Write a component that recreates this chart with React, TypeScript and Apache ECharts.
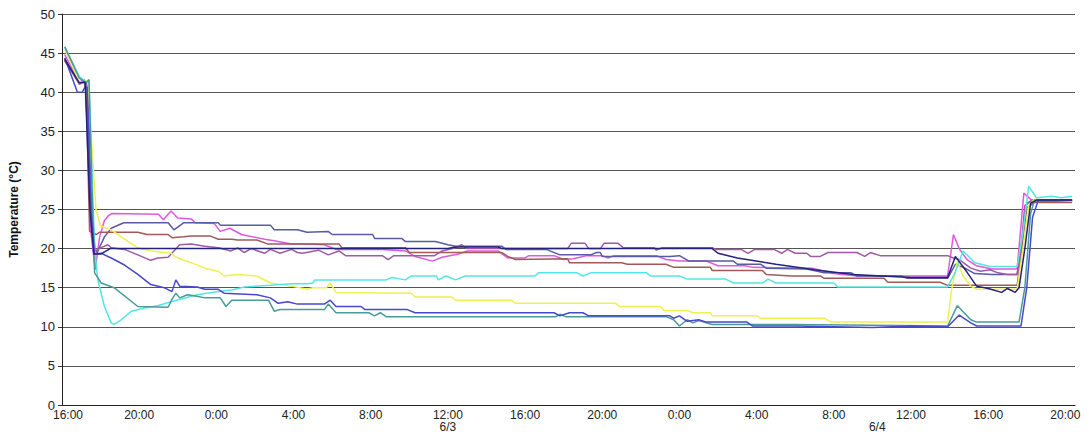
import React, { useEffect, useRef } from "react";
import * as echarts from "echarts";

// hours since 16:00 on 6/2
const X_MAX = 52.5;
const START_HOUR = 16;
const dateLabelNames = ["6/3", "6/4"];
const dateLabelHours = [20, 42.25];

const seriesNames = ["Magenta", "SlateBlue", "Brown", "Purple", "Yellow", "Cyan", "Teal", "Blue", "Navy"];
const seriesColors = ["#dd5ade", "#5a5aa5", "#a05a5a", "#a05aa5", "#f0f050", "#55e5e5", "#4a9a9a", "#4848cc", "#23237a"];

const magenta = [
  [0.14, 44.8], [0.9, 41.3], [1.15, 41.6], [1.3, 41.0], [1.5, 22], [1.72, 17.3], [1.95, 21.5], [2.2, 23.6], [2.4, 24.2], [2.6, 24.5],
  [5.0, 24.4], [5.25, 23.7], [5.65, 24.8], [6.0, 23.9], [6.7, 23.8], [6.9, 23.3], [7.9, 23.2], [8.2, 22.2], [8.7, 22.6], [9.3, 21.8],
  [10.5, 21.2], [11.0, 21.0], [11.9, 20.6], [12.7, 20.6], [13.6, 20.5], [14.2, 19.9], [16.6, 19.9], [17.8, 19.7], [18.3, 19.0], [19.2, 18.4],
  [19.7, 18.9], [20.55, 19.3], [21.0, 19.7], [22.6, 19.7], [23.1, 18.8], [24.0, 18.8], [24.2, 19.1], [25.5, 19.1], [26.0, 18.6], [26.5, 18.7],
  [27.2, 19.1], [28.0, 19.1], [28.3, 18.8], [28.6, 19.1], [30.8, 19.1], [31.3, 18.6], [32.0, 18.4], [33.4, 18.4], [34.0, 17.8], [35.4, 17.8],
  [35.8, 17.6], [38.9, 17.5], [40.0, 16.8], [41.2, 16.5], [45.9, 16.5], [46.2, 21.8], [46.5, 20.0], [46.9, 18.6], [47.4, 17.8], [48.2, 17.4],
  [49.5, 17.4], [49.85, 27.1], [50.2, 26.3], [50.5, 26.1], [52.35, 26.1],
];

const slateBlue = [
  [0.14, 44.3], [0.9, 41.2], [1.2, 41.3], [1.45, 30], [1.7, 20], [1.82, 19.5], [2.2, 21.5], [2.55, 22.6], [3.2, 23.3], [5.5, 23.3],
  [5.8, 22.4], [6.3, 23.3], [8.1, 23.3], [8.2, 23.0], [10.8, 23.0], [11.0, 22.4], [12.2, 22.4], [12.7, 22.1], [13.8, 22.2], [14.0, 21.8],
  [16.1, 21.8], [16.2, 21.3], [17.6, 21.3], [17.8, 20.9], [19.35, 20.9], [20.0, 20.5], [20.4, 20.3], [22.8, 20.3], [23.0, 19.9], [25.1, 19.9],
  [25.8, 19.2], [27.4, 19.2], [27.7, 19.5], [27.9, 19.5], [28.0, 19.0], [31.5, 19.0], [32.0, 19.1], [32.5, 18.4], [34.8, 18.4], [35.0, 18.0],
  [36.2, 18.0], [36.5, 17.5], [38.6, 17.4], [39.5, 16.9], [40.9, 16.9], [41.2, 16.5], [43.5, 16.5], [43.8, 16.2], [45.9, 16.2], [46.3, 18.0],
  [46.8, 17.5], [47.3, 16.8], [48.2, 16.7], [49.5, 16.7], [49.7, 20], [50.0, 25.8], [50.3, 26.1], [52.35, 26.1],
];

const brown = [
  [0.14, 44.0], [0.9, 41.2], [1.1, 41.5], [1.25, 40.5], [1.43, 22.2], [1.6, 22.0], [1.77, 21.8], [1.95, 22.1], [3.93, 22.1], [4.4, 21.8],
  [5.5, 21.8], [5.7, 21.4], [6.3, 21.5], [6.7, 21.6], [7.7, 21.6], [8.1, 21.2], [8.8, 21.2], [9.1, 21.1], [10.1, 21.1], [10.65, 20.6],
  [14.35, 20.6], [14.5, 20.1], [17.8, 20.1], [18.0, 19.5], [22.8, 19.5], [23.1, 19.0], [23.5, 18.6], [26.2, 18.7], [26.3, 18.2], [29.0, 18.2],
  [29.3, 18.0], [31.3, 18.0], [31.7, 17.6], [33.6, 17.6], [33.7, 17.2], [36.3, 17.2], [36.5, 16.7], [37.8, 16.5], [39.3, 16.5], [39.5, 16.2],
  [42.6, 16.2], [42.8, 15.7], [45.5, 15.7], [45.9, 15.3], [49.5, 15.3], [49.7, 19], [50.0, 25.2], [50.4, 25.9], [52.35, 25.9],
];

const purple = [
  [0.14, 44.1], [0.9, 41.0], [1.2, 41.4], [1.35, 40.5], [1.55, 22], [1.72, 19.6], [1.9, 20.0], [2.38, 20.5], [2.55, 20.1], [3.24, 19.9],
  [3.93, 19.2], [4.6, 18.5], [4.96, 18.8], [5.5, 18.9], [5.8, 19.7], [6.1, 20.5], [6.7, 20.6], [7.4, 20.3], [8.1, 20.1], [8.76, 19.7],
  [9.1, 20.1], [9.45, 19.5], [9.8, 20.0], [10.5, 19.4], [10.8, 19.9], [11.3, 19.4], [11.9, 19.9], [12.2, 19.5], [12.45, 19.4], [13.3, 19.8],
  [13.8, 19.2], [14.35, 19.7], [14.7, 19.1], [16.6, 19.1], [16.9, 18.6], [17.2, 19.1], [19.3, 19.1], [19.7, 19.7], [20.4, 20.1], [20.7, 20.5],
  [21.0, 20.0], [26.2, 20.0], [26.4, 20.7], [27.1, 20.7], [27.3, 20.0], [27.9, 20.0], [28.1, 20.7], [28.8, 20.7], [29.1, 20.1], [30.7, 20.1],
  [30.8, 19.8], [31.1, 20.1], [33.7, 20.1], [33.9, 19.9], [35.2, 19.9], [35.55, 19.4], [35.9, 19.9], [36.9, 19.9], [37.3, 19.4], [37.6, 19.9],
  [38.0, 19.4], [38.6, 19.4], [38.8, 19.0], [39.3, 19.0], [39.7, 19.5], [41.2, 19.5], [41.6, 19.0], [41.9, 19.5], [42.4, 19.1], [45.9, 19.1],
  [46.2, 18.8], [46.5, 18.6], [47.1, 17.5], [47.6, 17.1], [48.1, 17.3], [48.5, 16.9], [49.0, 16.7], [49.5, 16.7], [49.7, 20], [49.9, 25.5],
  [50.2, 26.1], [52.35, 26.1],
];

const yellow = [
  [0.14, 45.5], [0.9, 41.3], [1.35, 41.5], [1.5, 35], [1.76, 25], [2.0, 22.9], [2.55, 22.4], [3.24, 21.2], [3.93, 20.1], [4.6, 19.7],
  [5.65, 19.4], [5.85, 19.0], [6.2, 18.6], [6.7, 18.2], [7.4, 17.5], [8.1, 17.1], [8.4, 16.5], [9.1, 16.7], [10.1, 16.5], [10.8, 15.6],
  [11.9, 15.2], [12.7, 14.8], [13.0, 15.0], [13.7, 15.0], [13.9, 15.6], [14.2, 14.4], [18.1, 14.3], [18.3, 13.8], [20.2, 13.8], [20.4, 13.4],
  [23.3, 13.4], [23.5, 13.0], [28.7, 13.0], [28.9, 12.6], [31.0, 12.6], [31.2, 12.1], [32.4, 12.1], [32.7, 11.8], [33.6, 11.8], [33.7, 11.4],
  [36.0, 11.4], [36.2, 11.1], [39.5, 11.1], [39.85, 10.6], [45.9, 10.6], [46.1, 14.7], [46.4, 18.4], [46.7, 16.5], [47.1, 15.2], [47.4, 14.8],
  [49.5, 14.8], [49.8, 20], [50.1, 25.5], [50.4, 26.3], [52.35, 26.1],
];

const cyan = [
  [0.14, 45.8], [0.9, 42.0], [1.26, 41.3], [1.4, 41.6], [1.55, 30], [1.69, 20], [1.86, 16.0], [2.2, 12.6], [2.55, 10.5], [2.7, 10.3],
  [3.07, 10.9], [3.6, 12.0], [4.27, 12.4], [4.96, 12.7], [5.65, 13.2], [7.0, 14.1], [8.1, 14.5], [8.8, 14.7], [9.45, 15.1], [10.8, 15.3],
  [11.9, 15.5], [12.7, 15.5], [13.0, 15.6], [13.1, 16.0], [16.8, 16.0], [17.1, 16.3], [17.8, 16.0], [18.1, 16.5], [19.4, 16.5], [19.5, 16.0],
  [19.9, 16.5], [20.4, 16.0], [20.9, 16.5], [24.5, 16.5], [24.7, 16.9], [26.7, 16.9], [27.0, 16.5], [27.4, 16.9], [30.3, 16.9], [30.5, 16.5],
  [32.0, 16.5], [32.4, 16.1], [34.4, 16.1], [34.8, 15.6], [36.3, 15.6], [36.6, 16.1], [37.0, 15.6], [40.0, 15.6], [40.2, 15.1], [45.9, 15.1],
  [46.3, 17.0], [46.7, 19.7], [47.3, 18.2], [48.1, 17.7], [49.5, 17.7], [49.8, 22], [50.1, 28.0], [50.5, 26.5], [51.3, 26.7], [51.8, 26.5],
  [52.35, 26.7],
];

const teal = [
  [0.14, 45.8], [0.9, 41.8], [1.26, 41.2], [1.4, 41.6], [1.55, 28], [1.69, 16.9], [2.03, 15.6], [2.7, 15.0], [3.93, 12.6], [5.5, 12.5],
  [5.7, 13.5], [5.9, 14.3], [6.1, 13.7], [6.5, 14.1], [7.0, 13.9], [7.4, 13.7], [8.2, 13.7], [8.5, 12.6], [8.8, 13.4], [10.7, 13.4],
  [11.0, 12.0], [11.3, 12.2], [13.6, 12.2], [13.8, 12.9], [14.2, 11.8], [15.9, 11.8], [16.2, 11.4], [16.5, 11.8], [16.8, 11.3], [25.6, 11.3],
  [25.8, 11.6], [26.1, 11.3], [31.3, 11.3], [31.7, 10.9], [32.0, 10.1], [32.4, 10.9], [32.7, 10.5], [33.0, 10.8], [33.7, 10.3], [38.0, 10.3],
  [45.9, 10.1], [46.4, 12.7], [47.1, 10.9], [47.4, 10.6], [49.6, 10.6], [49.9, 15], [50.2, 24.5], [50.4, 26.2], [52.35, 26.2],
];

const blue = [
  [0.14, 44.4], [0.8, 40.0], [1.05, 40.0], [1.2, 40.7], [1.3, 40.6], [1.5, 25], [1.69, 19.3], [2.03, 19.4], [2.55, 18.8], [3.24, 17.9],
  [3.93, 16.7], [4.6, 15.4], [5.3, 15.0], [5.7, 14.5], [5.9, 16.0], [6.1, 15.2], [7.0, 15.1], [7.4, 14.8], [8.1, 14.8], [8.4, 14.3],
  [10.1, 14.1], [10.8, 13.7], [11.2, 13.0], [11.7, 13.2], [12.2, 12.9], [13.6, 12.9], [13.9, 13.4], [14.2, 12.6], [15.5, 12.6], [15.7, 12.2],
  [17.9, 12.2], [18.3, 11.8], [25.5, 11.8], [25.8, 11.4], [26.3, 11.8], [27.0, 11.8], [27.3, 11.4], [31.5, 11.4], [31.7, 11.1], [32.0, 11.4],
  [32.4, 10.7], [33.0, 10.9], [33.4, 10.6], [35.5, 10.6], [35.8, 10.1], [38.0, 10.1], [40.0, 10.0], [42.0, 9.9], [44.0, 10.1], [45.9, 10.0],
  [46.5, 11.5], [47.1, 10.5], [47.4, 10.1], [49.7, 10.1], [50.0, 15], [50.3, 24], [50.6, 26.2], [52.35, 26.2],
];

const navy = [
  [0.14, 44.2], [0.9, 41.2], [1.2, 41.3], [1.45, 25], [1.65, 19.3], [2.0, 19.3], [2.5, 20.0], [20.0, 20.0], [20.4, 20.2], [22.6, 20.2],
  [22.8, 20.0], [33.7, 20.0], [34.0, 19.4], [35.0, 18.8], [37.0, 18.0], [39.0, 17.3], [41.0, 16.7], [44.0, 16.3], [45.9, 16.3], [46.3, 19.0],
  [46.9, 17.0], [47.4, 15.2], [48.0, 14.9], [48.7, 14.4], [49.0, 14.9], [49.4, 14.4], [49.6, 15.0], [49.9, 20], [50.2, 25.8], [50.5, 26.2],
  [52.35, 26.2],
];

const seriesData = [magenta, slateBlue, brown, purple, yellow, cyan, teal, blue, navy];

export default function App() {
  const ref = useRef<HTMLDivElement>(null);
  useEffect(() => {
    if (!ref.current) return;
    const chart = echarts.init(ref.current, null, { renderer: "svg" });
    const font = "Liberation Sans, Arial, sans-serif";
    chart.setOption({
      animation: false,
      backgroundColor: "#ffffff",
      grid: { left: 59, right: 14, top: 14, bottom: 36, containLabel: false },
      xAxis: {
        type: "value",
        min: 0,
        max: X_MAX,
        interval: 4,
        axisLine: { show: true, lineStyle: { color: "#222", width: 1 } },
        axisTick: { show: false },
        splitLine: { show: false },
        axisLabel: {
          color: "#222",
          fontSize: 12,
          fontFamily: font,
          margin: 4,
          showMaxLabel: true,
          formatter: (v: number) => {
            if (Math.abs(v % 4) > 1e-6) return "";
            const h = (START_HOUR + v) % 24;
            const s = `${h}:00`;
            return v === 0 ? `{first|${s}}` : s;
          },
          rich: { first: { fontSize: 12, fontFamily: font, color: "#222", padding: [0, 0, 0, 12] } },
        },
      },
      yAxis: {
        type: "value",
        min: 0,
        max: 50,
        interval: 5,
        name: "Temperature (°C)",
        nameLocation: "middle",
        nameGap: 42,
        nameTextStyle: { fontSize: 12, fontWeight: "bold", color: "#111", fontFamily: font },
        axisLine: { show: true, lineStyle: { color: "#222", width: 1 } },
        axisTick: { show: true, length: 4, lineStyle: { color: "#333" } },
        splitLine: { show: true, lineStyle: { color: "#555", width: 1 } },
        axisLabel: { color: "#222", fontSize: 13, fontFamily: font, margin: 7 },
      },
      series: seriesData.map((d, i) => ({
        name: seriesNames[i],
        type: "line",
        data: d,
        showSymbol: false,
        symbol: "none",
        smooth: false,
        lineStyle: { color: seriesColors[i], width: 1.5 },
        itemStyle: { color: seriesColors[i] },
      })),
    });
    const y = 427;
    chart.setOption({
      graphic: dateLabelNames.map((name, i) => {
        const px = chart.convertToPixel({ xAxisIndex: 0 }, dateLabelHours[i]) as number;
        return {
          type: "text",
          x: px,
          y,
          style: { text: name, fill: "#222", font: `12px ${font}`, textAlign: "center", textVerticalAlign: "middle" },
        };
      }),
    });
    return () => chart.dispose();
  }, []);
  return (
    <div
      ref={ref}
      style={{ position: "fixed", left: 0, top: 0, width: 1089, height: 441 }}
    />
  );
}
